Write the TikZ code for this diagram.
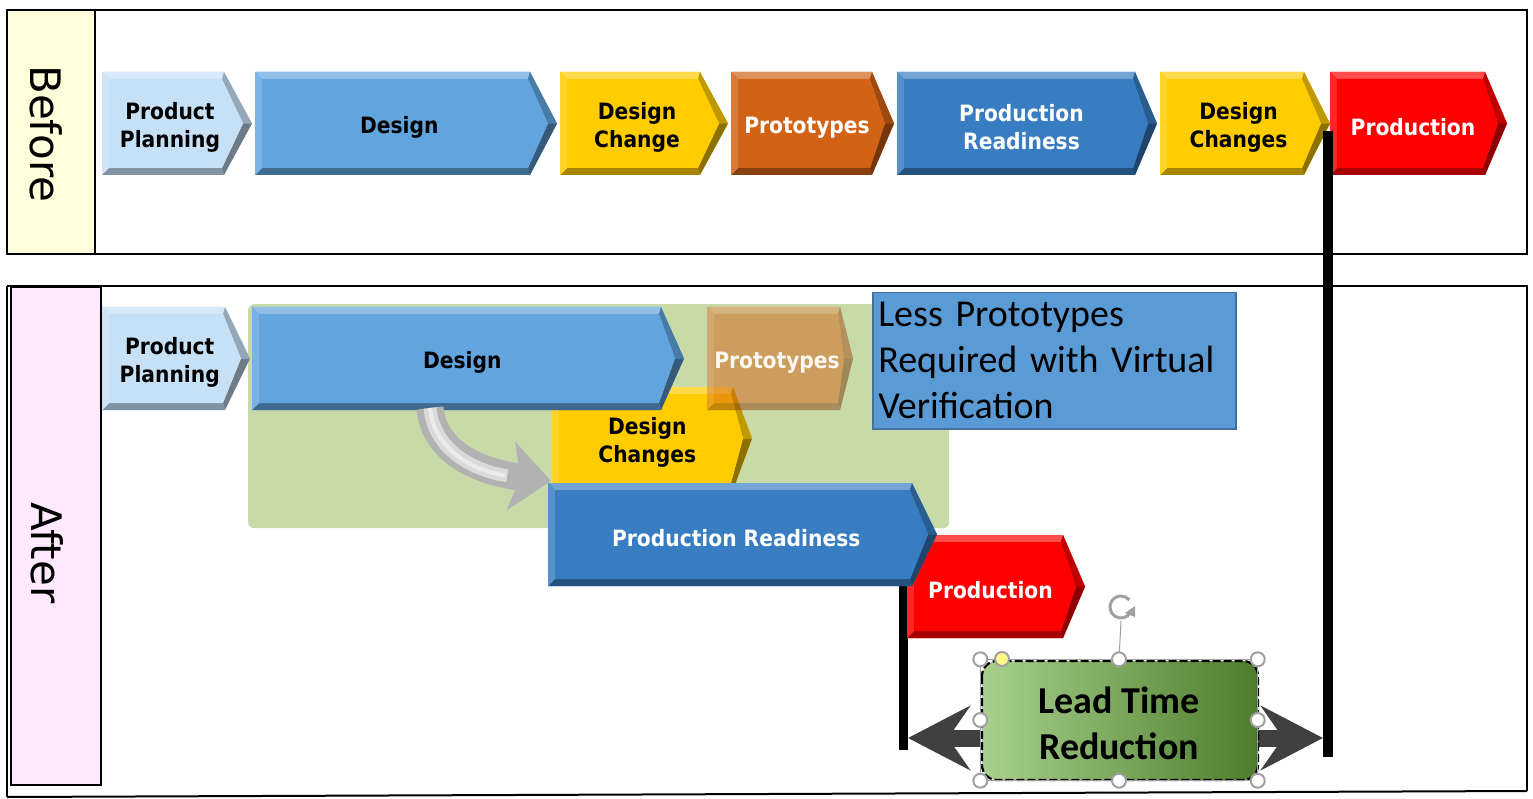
\documentclass[tikz,border=0pt]{standalone}
\usepackage{fontspec}
\usetikzlibrary{arrows.meta,calc}
\newfontfamily\tahfont{DejaVu Sans Condensed}
\newfontfamily\dvfont{DejaVu Sans}
\newfontfamily\calfont{Carlito}
\definecolor{ppblue}{HTML}{C6E0F6}
\definecolor{dsblue}{HTML}{62A4DE}
\definecolor{ylw}{HTML}{FFCC00}
\definecolor{orng}{HTML}{D26215}
\definecolor{prblue}{HTML}{387DC1}
\definecolor{pdred}{HTML}{FF0000}
\definecolor{bylw}{HTML}{FFFFDC}
\definecolor{apink}{HTML}{FFE9FF}
\definecolor{bggreen}{HTML}{C9DAA9}
\definecolor{lpblue}{HTML}{5B9BD5}
\definecolor{lpedge}{HTML}{41719C}
\definecolor{ltlight}{HTML}{A9D18E}
\definecolor{ltdark}{HTML}{4C7D2C}
\definecolor{dgray}{HTML}{404040}
\definecolor{hgray}{HTML}{A0A0A0}
\definecolor{silver}{HTML}{B2B2B2}
\definecolor{silverhi}{HTML}{DADADA}
\tikzset{
  lbl/.style={font=\tahfont\bfseries\fontsize{22.5}{28}\selectfont, align=center, inner sep=0pt},
  sidelbl/.style={font=\dvfont\fontsize{42}{50}\selectfont, rotate=-90, inner sep=0pt},
  frame/.style={draw=black, line width=2pt},
  blackbar/.style={draw=black, line width=10pt},
  ltarrow/.style={draw=dgray, line width=17pt, -{Stealth[length=62pt,width=64pt,inset=22pt]}},
  handle/.style={circle, draw=hgray, line width=2pt, fill=white, minimum size=14pt, inner sep=0pt},
}
\newcommand\chev[9]{%
  \pgfmathsetmacro\cym{(#4+#5)/2}%
  \pgfmathsetmacro\cx{(#2+(#6+#3)/2)/2}%
  \coordinate (#1-A) at (#2,#4);
  \coordinate (#1-B) at (#6,#4);
  \coordinate (#1-T) at (#3,\cym);
  \coordinate (#1-C) at (#6,#5);
  \coordinate (#1-D) at (#2,#5);
  \coordinate (#1-a) at (#2+7,#4+7);
  \coordinate (#1-b) at (#6-2,#4+7);
  \coordinate (#1-t) at (#3-9,\cym);
  \coordinate (#1-c) at (#6-2,#5-7);
  \coordinate (#1-d) at (#2+7,#5-7);
  \fill[#7] (#1-A)--(#1-B)--(#1-T)--(#1-C)--(#1-D)--cycle;
  \fill[#7!70!white] (#1-A)--(#1-B)--(#1-b)--(#1-a)--cycle;
  \fill[#7!75!black] (#1-B)--(#1-T)--(#1-t)--(#1-b)--cycle;
  \fill[#7!55!black] (#1-T)--(#1-C)--(#1-c)--(#1-t)--cycle;
  \fill[#7!65!black] (#1-D)--(#1-C)--(#1-c)--(#1-d)--cycle;
  \fill[#7!85!white] (#1-A)--(#1-a)--(#1-d)--(#1-D)--cycle;
  \fill[#7] (#1-a)--(#1-b)--(#1-t)--(#1-c)--(#1-d)--cycle;
  \node[lbl, text=#8] (#1) at (\cx,\cym+4) {#9};
}
\begin{document}
\begin{tikzpicture}[x=1pt,y=-1pt]
\useasboundingbox (0,0) rectangle (1533,799);
\fill[white] (0,0) rectangle (1533,799);

% ---------- Before ----------
\draw[frame] (7,10) rectangle (1527,254);
\draw[frame, fill=bylw] (7,10) rectangle (95,254);
\node[sidelbl] (before) at (46,134) {Before};

\chev{bpp}{102}{252}{72}{175}{224}{ppblue}{black}{Product\\Planning}
\chev{bds}{255}{557}{72}{175}{530}{dsblue}{black}{Design}
\chev{bdc}{560}{728}{72}{175}{700}{ylw}{black}{Design\\Change}
\chev{bpt}{731}{894}{72}{175}{872}{orng}{white}{Prototypes}
\chev{bpr}{897}{1157}{72}{175}{1135}{prblue}{white}{Production\\Readiness}
\chev{bdc2}{1160}{1330}{72}{175}{1304}{ylw}{black}{Design\\Changes}
\chev{bpd}{1330}{1507}{72}{175}{1485}{pdred}{white}{Production}

% ---------- After ----------
\draw[frame] (7,286) -- (1527,286) -- (1527,791);
\draw[line width=2pt] (7,797) -- (1527,791);
\draw[line width=1.2pt] (7,286) -- (7,797);
\draw[frame, fill=apink] (11,287) rectangle (101,785);
\node[sidelbl] (after) at (47,553) {After};

\node[fill=bggreen, rounded corners=6pt, minimum width=701pt, minimum height=224pt, anchor=north west, inner sep=0pt] (bg) at (248,304) {};

\coordinate (l1top) at (903,585);
\coordinate (l1bot) at (903,750);
\draw[blackbar, line width=9pt] (l1top) -- (l1bot);

\chev{app}{102}{250}{307}{410}{225}{ppblue}{black}{Product\\Planning}
\chev{adc}{552}{752}{387}{490}{733}{ylw}{black}{Design\\Changes}
\chev{ads}{252}{684}{307}{410}{661}{dsblue}{black}{Design}
\begin{scope}[transparency group, opacity=0.5]
\chev{apt}{707}{853}{307}{410}{840}{orng}{white}{}
\end{scope}
\node[lbl, text=white, text opacity=0.92] (apttext) at (777,363) {Prototypes};

% curved arrow
\coordinate (ca1) at (430,408);
\coordinate (ca2) at (551,481);
\draw[draw=silver, line width=27pt, -{Stealth[length=40pt,width=68pt,inset=9pt]}] (ca1) .. controls (434,452) and (478,472) .. (ca2);
\draw[draw=silverhi, line width=13pt, shorten >=44pt, line cap=butt] (ca1) .. controls (434,452) and (478,472) .. (ca2);
\draw[draw=white!92!black, line width=4pt, shorten >=46pt, line cap=butt] (ca1) .. controls (434,452) and (478,472) .. (ca2);

\chev{apd}{907}{1085}{535}{638}{1063}{pdred}{white}{Production}
\chev{apr}{548}{937}{483}{586}{912}{prblue}{white}{Production Readiness}

% note box
\node[draw=lpedge, line width=1.5pt, fill=lpblue, anchor=north west, minimum width=363pt, minimum height=136pt, text width=352pt, inner xsep=5pt, inner ysep=2pt, align=left, font=\calfont\fontsize{38}{46}\selectfont] (note) at (872,292) {Less Prototypes\\Required with Virtual\\Verification};

% right black bar
\coordinate (l2top) at (1328,131);
\coordinate (l2bot) at (1328,757);
\draw[blackbar] (l2top) -- (l2bot);

% lead time reduction
\node[minimum width=277pt, minimum height=121pt, inner sep=0pt] (lt) at (1119,720) {};
\coordinate (lhead) at (908,738);
\coordinate (rhead) at (1323,738);
\draw[ltarrow] (lt.west |- lhead) -- (lhead);
\draw[ltarrow] (lt.east |- rhead) -- (rhead);
\shade[left color=ltlight, right color=ltdark, rounded corners=15pt] (982,661) rectangle (1258,780);
\draw[black, line width=2.2pt, dash pattern=on 8pt off 3pt, rounded corners=15pt] (982,661) rectangle (1258,780);
\node[font=\calfont\bfseries\fontsize{38}{46}\selectfont, align=center, inner sep=0pt] (lttext) at (1119,723) {Lead Time\\Reduction};

% selection handles
\draw[hgray, line width=1pt] (lt.north west) rectangle (lt.south east);
\coordinate (rot) at (1121,607);
\draw[hgray, line width=1pt] (lt.north) -- ($(rot)+(0,14)$);
\draw[hgray, line width=3pt] ($(rot)+(9.5,5.5)$) arc (30:320:11);
\fill[hgray] ($(rot)+(14,-1)$) -- ($(rot)+(4,6)$) -- ($(rot)+(14,10)$) -- cycle;
\foreach \a in {north west,north,north east,west,east,south west,south,south east}
  \node[handle] at (lt.\a) {};
\node[handle, fill=yellow!45] (adj) at (1002,659) {};
\end{tikzpicture}
\end{document}
